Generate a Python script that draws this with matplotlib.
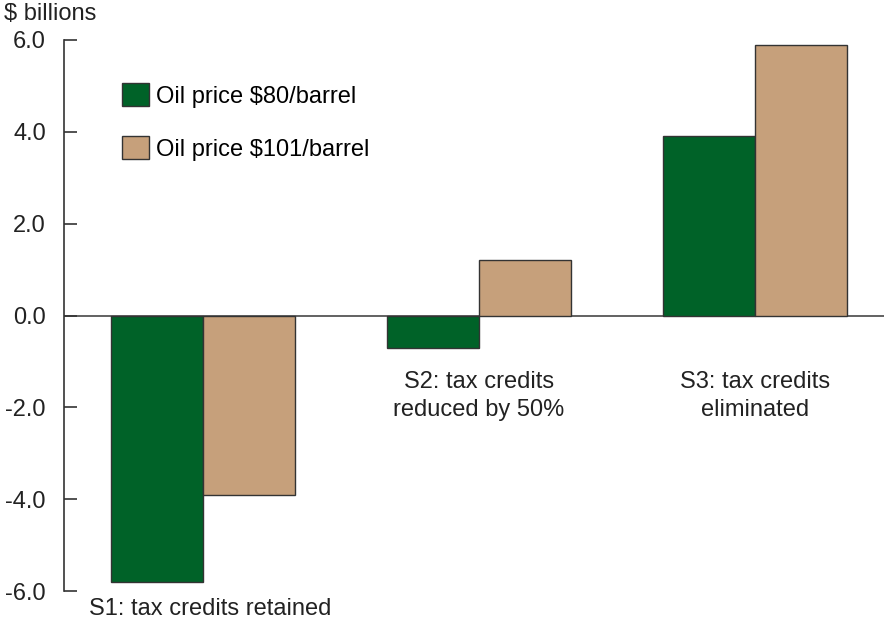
import matplotlib.pyplot as plt
import numpy as np

plt.rcParams['font.family'] = ['Liberation Sans', 'DejaVu Sans']

# values in $ billions
scenarios = ['S1: tax credits retained', 'S2: tax credits\nreduced by 50%', 'S3: tax credits\neliminated']
oil_80 = [-5.8, -0.7, 3.9]
oil_101 = [-3.9, 1.2, 5.9]
series_labels = ['Oil price $80/barrel', 'Oil price $101/barrel']
yticks = [-6.0, -4.0, -2.0, 0.0, 2.0, 4.0, 6.0]

green = '#006228'
tan = '#c6a07b'
edge = '#333333'
txt = '#222222'
fs = 17

fig = plt.figure(figsize=(8.84, 6.24), dpi=100)
ax = fig.add_axes([64 / 884, 1 - 591 / 624, 1 - 64 / 884, (591 - 40) / 624])

x = np.arange(len(scenarios))
w = 0.334
ax.bar(x - w / 2, oil_80, w, color=green, edgecolor=edge, linewidth=1, label=series_labels[0])
ax.bar(x + w / 2, oil_101, w, color=tan, edgecolor=edge, linewidth=1, label=series_labels[1])

ax.axhline(0, color='#555555', lw=1.3, zorder=0)

ax.set_xlim(-0.504, 2.467)
ax.set_ylim(-6, 6)
ax.set_yticks(yticks)
ax.set_yticklabels([f'{v:.1f}' for v in yticks])
ax.set_xticks([])
for s in ['top', 'right', 'bottom']:
    ax.spines[s].set_visible(False)
ax.spines['left'].set_color('#333333')
ax.spines['left'].set_linewidth(1.2)
ax.tick_params(axis='y', direction='in', length=9.5, width=1.2, color='#333333',
               pad=13, labelsize=fs, labelcolor=txt)

# category labels under / beside the bars
ax.text(-0.415, -6.15, scenarios[0], ha='left', va='top', fontsize=fs, color=txt)
ax.text(x[1], -1.2, scenarios[1], ha='center', va='top', fontsize=fs,
        color=txt, linespacing=1.35)
ax.text(x[2], -1.2, scenarios[2], ha='center', va='top', fontsize=fs,
        color=txt, linespacing=1.35)

fig.text(4 / 884, 1 - 3 / 624, '$ billions', ha='left', va='top', fontsize=fs, color=txt)

ax.legend(loc='upper left', bbox_to_anchor=(122 / 884, 1 - 83 / 624),
          bbox_transform=fig.transFigure, frameon=False, fontsize=fs,
          handlelength=1.15, handleheight=1.15, handletextpad=0.3,
          labelspacing=1.2, borderpad=0, borderaxespad=0)

plt.savefig('out.png', dpi=100)
